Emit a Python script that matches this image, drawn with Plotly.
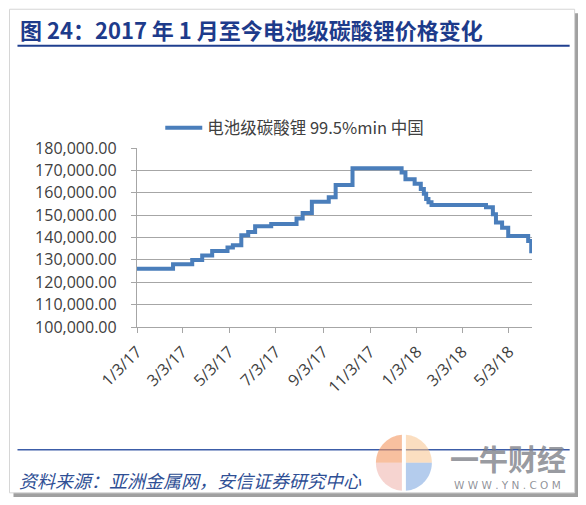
import math
import plotly.graph_objects as go

# ---- data ----
dates = ["2017-01-03", "2017-02-19", "2017-03-16", "2017-03-29", "2017-04-11",
         "2017-05-01", "2017-05-08", "2017-05-19", "2017-05-28", "2017-06-06",
         "2017-06-27", "2017-07-30", "2017-08-07", "2017-08-19", "2017-09-10",
         "2017-09-19", "2017-10-11", "2017-12-14", "2017-12-19", "2017-12-31",
         "2018-01-08", "2018-01-12", "2018-01-15", "2018-01-18", "2018-01-22",
         "2018-04-03", "2018-04-12", "2018-04-16", "2018-04-24", "2018-05-02",
         "2018-05-28", "2018-06-01"]
prices = [126000, 128000, 130000, 132000, 134000,
          135500, 136500, 141000, 142500, 145000,
          146000, 148500, 151000, 156000, 158000,
          163500, 171000, 169000, 166000, 164000,
          161700, 159500, 157200, 155700, 154500,
          153500, 150400, 146700, 144400, 140700,
          138400, 133000]
series_name = "电池级碳酸锂 99.5%min 中国"
tick_dates = ["2017-01-03", "2017-03-03", "2017-05-03", "2017-07-03", "2017-09-03",
              "2017-11-03", "2018-01-03", "2018-03-03", "2018-05-03"]
tick_labels = ["1/3/17", "3/3/17", "5/3/17", "7/3/17", "9/3/17",
               "11/3/17", "1/3/18", "3/3/18", "5/3/18"]
title_text = "图 24：2017 年 1 月至今电池级碳酸锂价格变化"
source_text = "资料来源：亚洲金属网，安信证券研究中心"

# ---- layout geometry (reference pixels; page body adds an 8px margin) ----
OFF = 8
W, H = 586 - 2 * OFF, 505 - 2 * OFF
L, R, T, B = 136.7, 532.3, 148.3, 326.7
PW, PH = R - L, B - T


def px(x):
    return (x - L) / PW


def py(y):
    return (B - y) / PH


def sector(cx, cy, r, a0, a1, n=24):
    pts = [(cx, cy)]
    for i in range(n + 1):
        a = math.radians(a0 + (a1 - a0) * i / n)
        pts.append((cx + r * math.cos(a), cy - r * math.sin(a)))
    s = "M " + " L ".join(f"{px(x):.5f},{py(y):.5f}" for x, y in pts) + " Z"
    return s


fig = go.Figure()
fig.add_trace(go.Scatter(
    x=dates, y=prices, mode="lines", name=series_name,
    line=dict(color="#4a7ebb", width=4, shape="hv"),
))

shapes = [
    # card shadow + card
    dict(type="rect", xref="paper", yref="paper", layer="below",
         x0=px(13), x1=px(580), y0=py(14), y1=py(497),
         fillcolor="#a0a0a0", line=dict(width=0)),
    dict(type="rect", xref="paper", yref="paper", layer="below",
         x0=px(9), x1=px(575), y0=py(10), y1=py(492),
         fillcolor="white", line=dict(color="#d6d6d6", width=1)),
    # title rule and bottom rule
    dict(type="line", xref="paper", yref="paper", layer="below",
         x0=px(17), x1=px(570), y0=py(46.5), y1=py(46.5),
         line=dict(color="#1f3f8f", width=2)),
    dict(type="line", xref="paper", yref="paper", layer="below",
         x0=px(17), x1=px(570), y0=py(449), y1=py(449),
         line=dict(color="#3c5da8", width=1.6)),
    # watermark logo (four tinted quarters)
    dict(type="path", xref="paper", yref="paper", layer="above",
         path=sector(404, 462, 28, 90, 180), fillcolor="rgba(243,150,95,0.6)",
         line=dict(width=0)),
    dict(type="path", xref="paper", yref="paper", layer="above",
         path=sector(404, 462, 28, 0, 90), fillcolor="rgba(248,195,140,0.55)",
         line=dict(width=0)),
    dict(type="path", xref="paper", yref="paper", layer="above",
         path=sector(404, 462, 28, 180, 270), fillcolor="rgba(235,160,150,0.45)",
         line=dict(width=0)),
    dict(type="path", xref="paper", yref="paper", layer="above",
         path=sector(404, 462, 28, 270, 360), fillcolor="rgba(130,170,225,0.6)",
         line=dict(width=0)),
    dict(type="line", xref="paper", yref="paper", layer="above",
         x0=px(404), x1=px(404), y0=py(433), y1=py(491),
         line=dict(color="white", width=4)),
]

annotations = [
    dict(text=f"<b>{title_text}</b>", xref="paper", yref="paper",
         x=px(18), y=py(30), xanchor="left", yanchor="middle", showarrow=False,
         font=dict(family="Noto Sans CJK SC", size=22, color="#1d3b8b")),
    dict(text=f"<i>{source_text}</i>", xref="paper", yref="paper",
         x=px(17), y=py(479), xanchor="left", yanchor="middle", showarrow=False,
         font=dict(family="Noto Sans CJK SC", size=18, color="#2f4f95")),
    dict(text="<b>一牛财经</b>", xref="paper", yref="paper",
         x=px(508), y=py(457), xanchor="center", yanchor="middle", showarrow=False,
         font=dict(family="Noto Sans CJK SC", size=29, color="rgba(125,128,135,0.8)")),
    dict(text="W W W . Y N . C O M", xref="paper", yref="paper",
         x=px(508), y=py(484), xanchor="center", yanchor="middle", showarrow=False,
         font=dict(family="DejaVu Sans", size=10.5, color="rgba(125,128,135,0.85)")),
]

fig.update_layout(
    width=W, height=H,
    margin=dict(l=L - OFF, r=(W + OFF) - R, t=T - OFF, b=(H + OFF) - B,
                autoexpand=False),
    paper_bgcolor="white", plot_bgcolor="rgba(0,0,0,0)",
    showlegend=True,
    legend=dict(x=px(160), y=py(111), xanchor="left", yanchor="top",
                orientation="h", bgcolor="rgba(0,0,0,0)", itemwidth=37,
                font=dict(family="Noto Sans CJK SC", size=16.5, color="#404040")),
    shapes=shapes, annotations=annotations,
    xaxis=dict(type="date", range=["2017-01-03", "2018-06-02"],
               tickvals=tick_dates, ticktext=tick_labels, tickangle=-45,
               showgrid=False, showline=True, linecolor="#a6a6a6", linewidth=1.3,
               ticks="outside", ticklen=5, tickcolor="#a6a6a6", tickwidth=1.3,
               ticklabelstandoff=3,
               tickfont=dict(family="Open Sans", size=16, color="#404040"),
               zeroline=False),
    yaxis=dict(range=[100000, 180000], dtick=10000, tickformat=",.2f",
               showgrid=True, gridcolor="#a6a6a6", gridwidth=1.3,
               showline=True, linecolor="#a6a6a6", linewidth=1.3,
               ticks="outside", ticklen=5, tickcolor="#a6a6a6", tickwidth=1.3,
               ticklabelstandoff=11,
               tickfont=dict(family="Open Sans", size=16, color="#404040"),
               zeroline=False),
)

fig.write_html("out.html")
